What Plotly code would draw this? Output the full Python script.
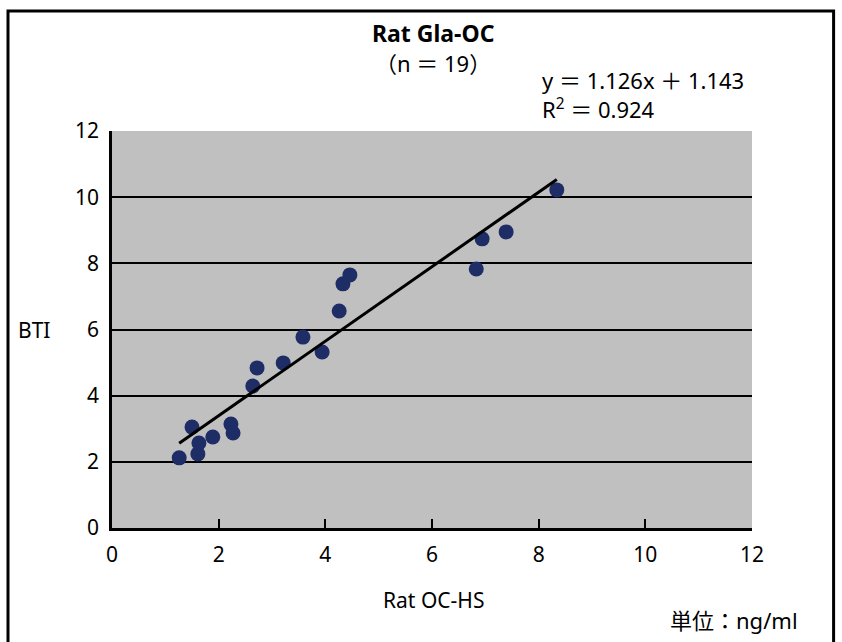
import plotly.graph_objects as go

# Rat OC-HS (ng/ml) vs BTI, n = 19
oc_hs = [1.26, 1.50, 1.61, 1.63, 1.89, 2.23, 2.27, 2.64, 2.72, 3.21,
         3.58, 3.94, 4.26, 4.33, 4.46, 6.83, 6.94, 7.39, 8.34]
bti = [2.12, 3.05, 2.24, 2.57, 2.75, 3.14, 2.87, 4.29, 4.84, 4.99,
       5.77, 5.32, 6.56, 7.38, 7.65, 7.83, 8.74, 8.95, 10.22]

slope = 1.126
intercept = 1.143
r_squared = 0.924

x_ticks = [0, 2, 4, 6, 8, 10, 12]
y_ticks = [0, 2, 4, 6, 8, 10, 12]

fit_x = [min(oc_hs), max(oc_hs)]
fit_y = [slope * v + intercept for v in fit_x]

FONT = "Noto Sans, Noto Sans CJK JP, sans-serif"

fig = go.Figure()
fig.add_trace(go.Scatter(x=oc_hs, y=bti, mode="markers",
                         marker=dict(size=15, color="#1f2d66"),
                         showlegend=False, hoverinfo="x+y"))
fig.add_trace(go.Scatter(x=fit_x, y=fit_y, mode="lines",
                         line=dict(color="black", width=3),
                         showlegend=False, hoverinfo="skip"))

axis_common = dict(showline=True, linecolor="black", linewidth=2.5,
                   ticks="inside", ticklen=9, tickwidth=2, tickcolor="black",
                   tickfont=dict(family=FONT, size=21, color="black"),
                   zeroline=False, range=[0, 12], fixedrange=True)

fig.update_xaxes(tickvals=x_ticks, showgrid=False, ticklabelstandoff=6, **axis_common)
fig.update_yaxes(tickvals=y_ticks, showgrid=True, gridcolor="black", gridwidth=2,
                 ticklabelstandoff=6, **axis_common)

annotations = [
    dict(text="<b>Rat Gla-OC</b>", x=0.502, y=1.247,
         xanchor="center", font=dict(size=23)),
    dict(text="（n ＝ 19）", x=0.502, y=1.172,
         xanchor="center", font=dict(size=22)),
    dict(text=f"y ＝ {slope}x ＋ {intercept}", x=0.669, y=1.128,
         xanchor="left", font=dict(size=22)),
    dict(text=f"R<sup>2</sup> ＝ {r_squared}", x=0.669, y=1.056,
         xanchor="left", font=dict(size=22)),
    dict(text="BTI", x=-0.15, y=0.499,
         xanchor="left", font=dict(size=21)),
    dict(text="Rat OC-HS", x=0.502, y=-0.181,
         xanchor="center", font=dict(size=21)),
    dict(text="単位：ng/ml", x=1.075, y=-0.232,
         xanchor="right", font=dict(size=22)),
]
for a in annotations:
    a.update(xref="paper", yref="paper", showarrow=False, yanchor="middle")
    a["font"].update(family=FONT, color="black")

fig.update_layout(
    width=842, height=642,
    margin=dict(l=112, r=90, t=131, b=114),
    plot_bgcolor="#c0c0c0", paper_bgcolor="white",
    font=dict(family=FONT, color="black"),
    annotations=annotations,
    shapes=[dict(type="rect", xref="paper", yref="paper",
                 x0=-0.1625, x1=1.1275, y0=-0.32, y1=1.3025,
                 line=dict(color="black", width=3), layer="above")],
)

fig.write_html("out.html")
